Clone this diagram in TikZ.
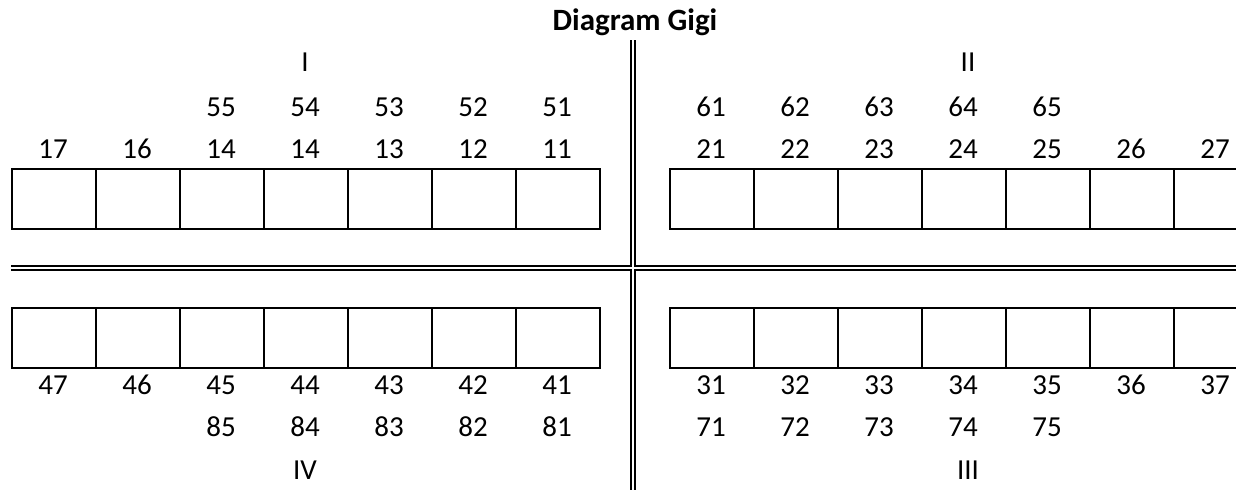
\documentclass[tikz,border=0pt]{standalone}
\usepackage{fontspec}
\setmainfont{Carlito}
\usepackage{tikz}

\tikzset{
  tooth/.style={draw, line width=1.1pt, minimum width=42pt, minimum height=30pt,
    inner sep=0pt, anchor=north west},
  num/.style={font=\fontsize{14.5}{16}\selectfont, inner sep=0pt, anchor=base},
  garis/.style={line width=1.1pt},
}

\begin{document}
\begin{tikzpicture}[x=0.5pt, y=-0.5pt]
\path[use as bounding box, clip] (0,0) rectangle (1236,490);

% Judul
\node[num, font=\fontsize{15.5}{18}\selectfont\bfseries] (judul) at (635,31) {Diagram Gigi};

% Kuadran
\node[num] (qI) at (305,72) {I};
\node[num] (qII) at (968,72) {II};
\node[num] (qIV) at (305,480) {IV};
\node[num] (qIII) at (968,480) {III};

% Kotak gigi
\foreach \i in {0,...,6} {
  \node[tooth] (atasKiri\i) at ({11+84*\i},168) {};
  \node[tooth] (bawahKiri\i) at ({11+84*\i},307) {};
  \node[tooth] (atasKanan\i) at ({669+84*\i},168) {};
  \node[tooth] (bawahKanan\i) at ({669+84*\i},307) {};
}

% Nomor gigi atas
\foreach \n [count=\i from 2] in {55,54,53,52,51}
  \node[num] (sa\i) at ({53+84*\i},117) {\n};
\foreach \n [count=\i from 0] in {17,16,14,14,13,12,11}
  \node[num] (ta\i) at ({53+84*\i},159) {\n};
\foreach \n [count=\i from 0] in {61,62,63,64,65}
  \node[num] (sb\i) at ({711+84*\i},117) {\n};
\foreach \n [count=\i from 0] in {21,22,23,24,25,26,27}
  \node[num] (tb\i) at ({711+84*\i},159) {\n};

% Nomor gigi bawah
\foreach \n [count=\i from 0] in {47,46,45,44,43,42,41}
  \node[num] (tc\i) at ({53+84*\i},395) {\n};
\foreach \n [count=\i from 2] in {85,84,83,82,81}
  \node[num] (sc\i) at ({53+84*\i},437) {\n};
\foreach \n [count=\i from 0] in {31,32,33,34,35,36,37}
  \node[num] (td\i) at ({711+84*\i},395) {\n};
\foreach \n [count=\i from 0] in {71,72,73,74,75}
  \node[num] (sd\i) at ({711+84*\i},437) {\n};

% Garis ganda
\draw[garis] (11,266) -- (631,266) -- (631,40);
\draw[garis] (1236,266) -- (635,266) -- (635,40);
\draw[garis] (11,270) -- (631,270) -- (631,490);
\draw[garis] (1236,270) -- (635,270) -- (635,490);

\end{tikzpicture}
\end{document}
